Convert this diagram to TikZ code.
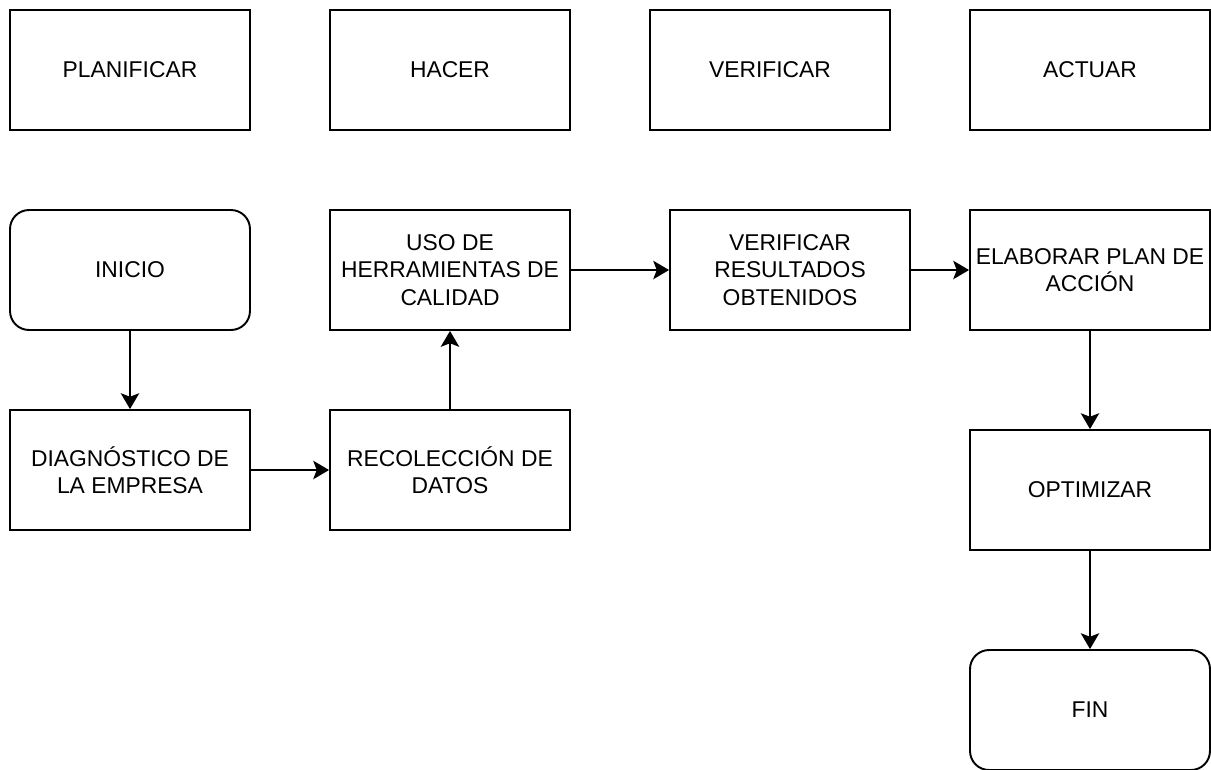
\documentclass[tikz,border=0pt]{standalone}
\usepackage{fontspec}
\setmainfont{Liberation Sans}
\usetikzlibrary{arrows.meta}

\begin{document}
\begin{tikzpicture}[
    x=0.02cm, y=-0.02cm,
    squarednode/.style={rectangle, draw=black, line width=1.1pt, minimum width=4.8cm, minimum height=2.4cm, inner sep=0pt, align=center, font=\fontsize{13}{15.5}\selectfont},
    roundnode/.style={squarednode, rounded corners=0.38cm},
    flow/.style={-{Stealth[length=9pt,width=10.5pt,inset=2pt]}, line width=1.1pt}
  ]
  \useasboundingbox (0,0) rectangle (1211,769);

  %Phases
  \node[squarednode] at (130,70) (plan) {PLANIFICAR};
  \node[squarednode] at (450,70) (hacer) {HACER};
  \node[squarednode] at (770,70) (verif) {VERIFICAR};
  \node[squarednode] at (1090,70) (actuar) {ACTUAR};

  %Nodes
  \node[roundnode] at (130,270) (inicio) {INICIO};
  \node[squarednode] at (130,470) (diag) {DIAGNÓSTICO DE\\LA EMPRESA};
  \node[squarednode] at (450,470) (recol) {RECOLECCIÓN DE\\DATOS};
  \node[squarednode] at (450,270) (uso) {USO DE\\HERRAMIENTAS DE\\CALIDAD};
  \node[squarednode] at (790,270) (result) {VERIFICAR\\RESULTADOS\\OBTENIDOS};
  \node[squarednode] at (1090,270) (plandeac) {ELABORAR PLAN DE\\ACCIÓN};
  \node[squarednode] at (1090,490) (optim) {OPTIMIZAR};
  \node[roundnode] at (1090,710) (fin) {FIN};

  %Lines
  \draw[flow] (inicio) -- (diag);
  \draw[flow] (diag) -- (recol);
  \draw[flow] (recol) -- (uso);
  \draw[flow] (uso) -- (result);
  \draw[flow] (result) -- (plandeac);
  \draw[flow] (plandeac) -- (optim);
  \draw[flow] (optim) -- (fin);

\end{tikzpicture}
\end{document}
